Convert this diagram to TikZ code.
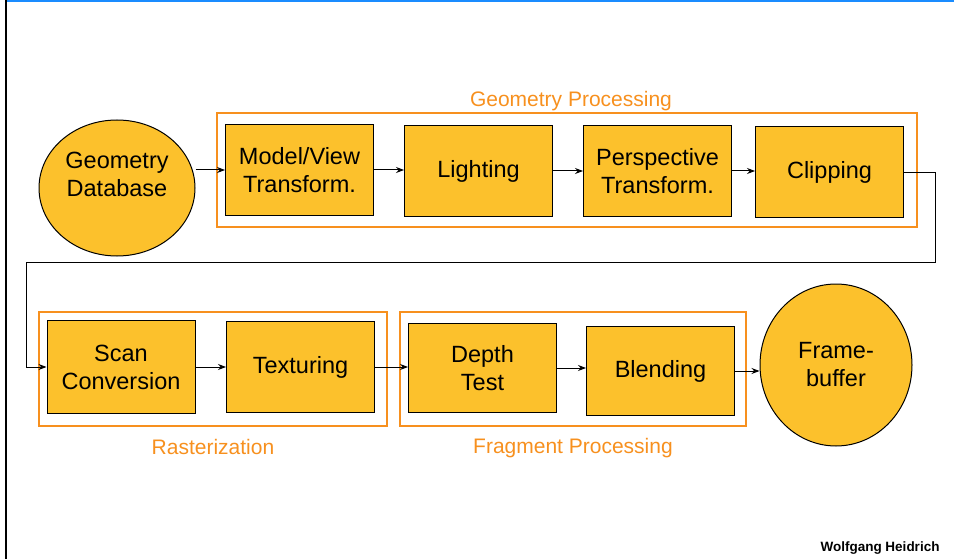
\documentclass[tikz,border=0pt]{standalone}
\usepackage{fontspec}
\setmainfont{Liberation Sans}
\usetikzlibrary{arrows.meta, shapes.geometric, positioning, calc}
\definecolor{stagefill}{HTML}{FCC12C}
\definecolor{grouporange}{HTML}{F7901E}
\definecolor{slideblue}{HTML}{1A8CFF}

\begin{document}
\begin{tikzpicture}[x=1pt, y=-1pt,
    stagebox/.style={draw=black, line width=1pt, fill=stagefill, minimum width=148pt, minimum height=91pt, inner sep=2pt, align=center, font=\fontsize{23.5}{28}\selectfont},
    dbnode/.style={ellipse, draw=black, line width=1pt, fill=stagefill, align=center, font=\fontsize{23.5}{28}\selectfont},
    groupbox/.style={draw=grouporange, line width=2pt, minimum height=114pt, inner sep=0pt},
    grouplabel/.style={text=grouporange, font=\fontsize{21}{25}\selectfont},
    flow/.style={-{Stealth[length=8pt, width=6pt]}, line width=1pt}]
  \useasboundingbox (0,0) rectangle (954,559);
  % Slide frame
  \draw[slideblue, line width=2pt] (5,1) -- (954,1);
  \draw[black, line width=1.5pt] (6,0) -- (6,559);
  % Stage groups
  \node[groupbox, minimum width=700pt] (geomgrp) at (566.5,170.5) {};
  \node[groupbox, minimum width=348pt] (rastgrp) at (212.5,368.5) {};
  \node[groupbox, minimum width=346pt] (fraggrp) at (572.5,368.5) {};
  \node[grouplabel] (geomlbl) at (571,101) {Geometry Processing};
  \node[grouplabel] (rastlbl) at (213,447) {Rasterization};
  \node[grouplabel] (fraglbl) at (573,448) {Fragment Processing};
  % Endpoints
  \node[dbnode, minimum width=156pt, minimum height=136pt] (geodb) at (117,188) {};
  \node[align=center, font=\fontsize{23.5}{28}\selectfont] (geodbtxt) at (117,174) {Geometry\\Database};
  \node[dbnode, minimum width=152pt, minimum height=162pt] (fbuf) at (836,365) {Frame-\\buffer};
  % Geometry stages
  \node[stagebox] (modelview) at (299.5,170) {Model/View\\Transform.};
  \node[stagebox] (lighting) at (478.5,171) {Lighting};
  \node[stagebox] (persp) at (657.5,171) {Perspective\\Transform.};
  \node[stagebox] (clipping) at (829.5,172.5) {Clipping};
  % Rasterization and fragment stages
  \node[stagebox, minimum height=93pt] (scanconv) at (121,367) {Scan\\Conversion};
  \node[stagebox, minimum height=91pt] (texturing) at (300.5,367) {Texturing};
  \node[stagebox, minimum height=89pt] (depthtest) at (482.5,368) {Depth\\Test};
  \node[stagebox, minimum height=89pt] (blending) at (660.5,371) {Blending};
  % Connectors
  \coordinate (wrapR) at (935,262);
  \coordinate (wrapL) at (26,262);
  \draw[flow] (modelview.west -| geodb.east) -- (modelview.west);
  \draw[flow] (modelview.east) -- (modelview.east -| lighting.west);
  \draw[flow] (lighting.east) -- (lighting.east -| persp.west);
  \draw[flow] (persp.east) -- (persp.east -| clipping.west);
  \draw[flow] (clipping.east) -| (wrapR) -- (wrapL) |- (scanconv.west);
  \draw[flow] (scanconv.east) -- (scanconv.east -| texturing.west);
  \draw[flow] (texturing.east) -- (texturing.east -| depthtest.west);
  \draw[flow] (depthtest.east) -- (depthtest.east -| blending.west);
  \draw[flow] (blending.east) -- (blending.east -| fbuf.west);
  % Credit
  \node[font=\fontsize{13.5}{16}\selectfont\bfseries] (credit) at (880,548) {Wolfgang Heidrich};
\end{tikzpicture}
\end{document}
